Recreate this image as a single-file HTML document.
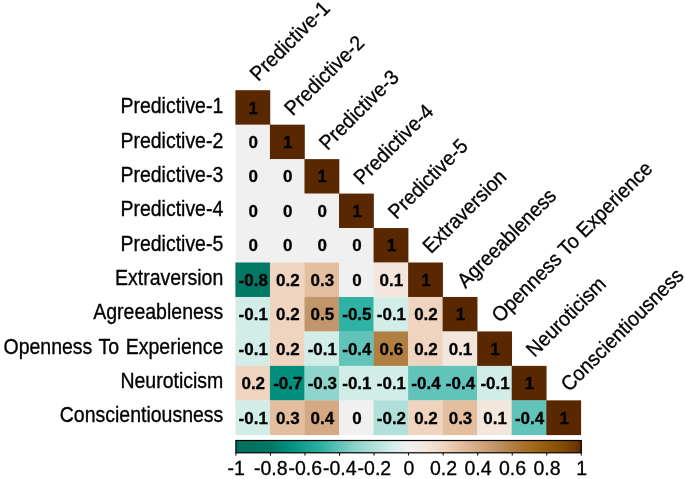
<!DOCTYPE html><html><head><meta charset="utf-8"><title>Correlation plot</title><style>html,body{margin:0;padding:0;background:#fff}svg{display:block}text{stroke:#000;stroke-width:0.3px;font-family:"Liberation Sans",Arial,sans-serif;fill:#000}</style></head><body>
<svg width="685" height="479" viewBox="0 0 685 479">
<defs><linearGradient id="cb" x1="0" y1="0" x2="1" y2="0">
<stop offset="0.00%" stop-color="#006F5C"/>
<stop offset="10.00%" stop-color="#007864"/>
<stop offset="15.00%" stop-color="#008F7C"/>
<stop offset="25.00%" stop-color="#2FB1A3"/>
<stop offset="30.00%" stop-color="#62C3BA"/>
<stop offset="35.00%" stop-color="#8FD5CC"/>
<stop offset="40.00%" stop-color="#B0E0DA"/>
<stop offset="45.00%" stop-color="#D2ECE8"/>
<stop offset="50.00%" stop-color="#F0F0F0"/>
<stop offset="55.00%" stop-color="#F3E6DC"/>
<stop offset="60.00%" stop-color="#EFD5C0"/>
<stop offset="65.00%" stop-color="#E3BFA0"/>
<stop offset="70.00%" stop-color="#D4A983"/>
<stop offset="75.00%" stop-color="#C2956A"/>
<stop offset="80.00%" stop-color="#B17F42"/>
<stop offset="85.00%" stop-color="#A46C1E"/>
<stop offset="90.00%" stop-color="#955A0B"/>
<stop offset="95.00%" stop-color="#824806"/>
<stop offset="98.50%" stop-color="#6E3803"/>
<stop offset="100.00%" stop-color="#5A2800"/>
</linearGradient></defs>
<rect width="685" height="479" fill="#fff"/>
<rect x="235.40" y="90.20" width="34.84" height="34.76" fill="#5A2800"/>
<rect x="235.40" y="124.66" width="34.84" height="34.76" fill="#F0F0F0"/>
<rect x="269.94" y="124.66" width="34.84" height="34.76" fill="#5A2800"/>
<rect x="235.40" y="159.12" width="34.84" height="34.76" fill="#F0F0F0"/>
<rect x="269.94" y="159.12" width="34.84" height="34.76" fill="#F0F0F0"/>
<rect x="304.48" y="159.12" width="34.84" height="34.76" fill="#5A2800"/>
<rect x="235.40" y="193.58" width="34.84" height="34.76" fill="#F0F0F0"/>
<rect x="269.94" y="193.58" width="34.84" height="34.76" fill="#F0F0F0"/>
<rect x="304.48" y="193.58" width="34.84" height="34.76" fill="#F0F0F0"/>
<rect x="339.02" y="193.58" width="34.84" height="34.76" fill="#5A2800"/>
<rect x="235.40" y="228.04" width="34.84" height="34.76" fill="#F0F0F0"/>
<rect x="269.94" y="228.04" width="34.84" height="34.76" fill="#F0F0F0"/>
<rect x="304.48" y="228.04" width="34.84" height="34.76" fill="#F0F0F0"/>
<rect x="339.02" y="228.04" width="34.84" height="34.76" fill="#F0F0F0"/>
<rect x="373.56" y="228.04" width="34.84" height="34.76" fill="#5A2800"/>
<rect x="235.40" y="262.50" width="34.84" height="34.76" fill="#007864"/>
<rect x="269.94" y="262.50" width="34.84" height="34.76" fill="#EFD5C0"/>
<rect x="304.48" y="262.50" width="34.84" height="34.76" fill="#E3BFA0"/>
<rect x="339.02" y="262.50" width="34.84" height="34.76" fill="#F0F0F0"/>
<rect x="373.56" y="262.50" width="34.84" height="34.76" fill="#F3E6DC"/>
<rect x="408.10" y="262.50" width="34.84" height="34.76" fill="#5A2800"/>
<rect x="235.40" y="296.96" width="34.84" height="34.76" fill="#D2ECE8"/>
<rect x="269.94" y="296.96" width="34.84" height="34.76" fill="#EFD5C0"/>
<rect x="304.48" y="296.96" width="34.84" height="34.76" fill="#C2956A"/>
<rect x="339.02" y="296.96" width="34.84" height="34.76" fill="#2FB1A3"/>
<rect x="373.56" y="296.96" width="34.84" height="34.76" fill="#D2ECE8"/>
<rect x="408.10" y="296.96" width="34.84" height="34.76" fill="#EFD5C0"/>
<rect x="442.64" y="296.96" width="34.84" height="34.76" fill="#5A2800"/>
<rect x="235.40" y="331.42" width="34.84" height="34.76" fill="#D2ECE8"/>
<rect x="269.94" y="331.42" width="34.84" height="34.76" fill="#EFD5C0"/>
<rect x="304.48" y="331.42" width="34.84" height="34.76" fill="#D2ECE8"/>
<rect x="339.02" y="331.42" width="34.84" height="34.76" fill="#62C3BA"/>
<rect x="373.56" y="331.42" width="34.84" height="34.76" fill="#B17F42"/>
<rect x="408.10" y="331.42" width="34.84" height="34.76" fill="#EFD5C0"/>
<rect x="442.64" y="331.42" width="34.84" height="34.76" fill="#F3E6DC"/>
<rect x="477.18" y="331.42" width="34.84" height="34.76" fill="#5A2800"/>
<rect x="235.40" y="365.88" width="34.84" height="34.76" fill="#EFD5C0"/>
<rect x="269.94" y="365.88" width="34.84" height="34.76" fill="#008F7C"/>
<rect x="304.48" y="365.88" width="34.84" height="34.76" fill="#8FD5CC"/>
<rect x="339.02" y="365.88" width="34.84" height="34.76" fill="#D2ECE8"/>
<rect x="373.56" y="365.88" width="34.84" height="34.76" fill="#D2ECE8"/>
<rect x="408.10" y="365.88" width="34.84" height="34.76" fill="#62C3BA"/>
<rect x="442.64" y="365.88" width="34.84" height="34.76" fill="#62C3BA"/>
<rect x="477.18" y="365.88" width="34.84" height="34.76" fill="#D2ECE8"/>
<rect x="511.72" y="365.88" width="34.84" height="34.76" fill="#5A2800"/>
<rect x="235.40" y="400.34" width="34.84" height="34.76" fill="#D2ECE8"/>
<rect x="269.94" y="400.34" width="34.84" height="34.76" fill="#E3BFA0"/>
<rect x="304.48" y="400.34" width="34.84" height="34.76" fill="#D4A983"/>
<rect x="339.02" y="400.34" width="34.84" height="34.76" fill="#F0F0F0"/>
<rect x="373.56" y="400.34" width="34.84" height="34.76" fill="#B0E0DA"/>
<rect x="408.10" y="400.34" width="34.84" height="34.76" fill="#EFD5C0"/>
<rect x="442.64" y="400.34" width="34.84" height="34.76" fill="#E3BFA0"/>
<rect x="477.18" y="400.34" width="34.84" height="34.76" fill="#F3E6DC"/>
<rect x="511.72" y="400.34" width="34.84" height="34.76" fill="#62C3BA"/>
<rect x="546.26" y="400.34" width="34.84" height="34.76" fill="#5A2800"/>
<text x="253.27" y="113.55" font-size="17" font-weight="bold" text-anchor="middle">1</text>
<text x="253.27" y="148.01" font-size="17" font-weight="bold" text-anchor="middle">0</text>
<text x="287.81" y="148.01" font-size="17" font-weight="bold" text-anchor="middle">1</text>
<text x="253.27" y="182.47" font-size="17" font-weight="bold" text-anchor="middle">0</text>
<text x="287.81" y="182.47" font-size="17" font-weight="bold" text-anchor="middle">0</text>
<text x="322.35" y="182.47" font-size="17" font-weight="bold" text-anchor="middle">1</text>
<text x="253.27" y="216.93" font-size="17" font-weight="bold" text-anchor="middle">0</text>
<text x="287.81" y="216.93" font-size="17" font-weight="bold" text-anchor="middle">0</text>
<text x="322.35" y="216.93" font-size="17" font-weight="bold" text-anchor="middle">0</text>
<text x="356.89" y="216.93" font-size="17" font-weight="bold" text-anchor="middle">1</text>
<text x="253.27" y="251.39" font-size="17" font-weight="bold" text-anchor="middle">0</text>
<text x="287.81" y="251.39" font-size="17" font-weight="bold" text-anchor="middle">0</text>
<text x="322.35" y="251.39" font-size="17" font-weight="bold" text-anchor="middle">0</text>
<text x="356.89" y="251.39" font-size="17" font-weight="bold" text-anchor="middle">0</text>
<text x="391.43" y="251.39" font-size="17" font-weight="bold" text-anchor="middle">1</text>
<text x="253.27" y="285.85" font-size="17" font-weight="bold" text-anchor="middle">-0.8</text>
<text x="287.81" y="285.85" font-size="17" font-weight="bold" text-anchor="middle">0.2</text>
<text x="322.35" y="285.85" font-size="17" font-weight="bold" text-anchor="middle">0.3</text>
<text x="356.89" y="285.85" font-size="17" font-weight="bold" text-anchor="middle">0</text>
<text x="391.43" y="285.85" font-size="17" font-weight="bold" text-anchor="middle">0.1</text>
<text x="425.97" y="285.85" font-size="17" font-weight="bold" text-anchor="middle">1</text>
<text x="253.27" y="320.31" font-size="17" font-weight="bold" text-anchor="middle">-0.1</text>
<text x="287.81" y="320.31" font-size="17" font-weight="bold" text-anchor="middle">0.2</text>
<text x="322.35" y="320.31" font-size="17" font-weight="bold" text-anchor="middle">0.5</text>
<text x="356.89" y="320.31" font-size="17" font-weight="bold" text-anchor="middle">-0.5</text>
<text x="391.43" y="320.31" font-size="17" font-weight="bold" text-anchor="middle">-0.1</text>
<text x="425.97" y="320.31" font-size="17" font-weight="bold" text-anchor="middle">0.2</text>
<text x="460.51" y="320.31" font-size="17" font-weight="bold" text-anchor="middle">1</text>
<text x="253.27" y="354.77" font-size="17" font-weight="bold" text-anchor="middle">-0.1</text>
<text x="287.81" y="354.77" font-size="17" font-weight="bold" text-anchor="middle">0.2</text>
<text x="322.35" y="354.77" font-size="17" font-weight="bold" text-anchor="middle">-0.1</text>
<text x="356.89" y="354.77" font-size="17" font-weight="bold" text-anchor="middle">-0.4</text>
<text x="391.43" y="354.77" font-size="17" font-weight="bold" text-anchor="middle">0.6</text>
<text x="425.97" y="354.77" font-size="17" font-weight="bold" text-anchor="middle">0.2</text>
<text x="460.51" y="354.77" font-size="17" font-weight="bold" text-anchor="middle">0.1</text>
<text x="495.05" y="354.77" font-size="17" font-weight="bold" text-anchor="middle">1</text>
<text x="253.27" y="389.23" font-size="17" font-weight="bold" text-anchor="middle">0.2</text>
<text x="287.81" y="389.23" font-size="17" font-weight="bold" text-anchor="middle">-0.7</text>
<text x="322.35" y="389.23" font-size="17" font-weight="bold" text-anchor="middle">-0.3</text>
<text x="356.89" y="389.23" font-size="17" font-weight="bold" text-anchor="middle">-0.1</text>
<text x="391.43" y="389.23" font-size="17" font-weight="bold" text-anchor="middle">-0.1</text>
<text x="425.97" y="389.23" font-size="17" font-weight="bold" text-anchor="middle">-0.4</text>
<text x="460.51" y="389.23" font-size="17" font-weight="bold" text-anchor="middle">-0.4</text>
<text x="495.05" y="389.23" font-size="17" font-weight="bold" text-anchor="middle">-0.1</text>
<text x="529.59" y="389.23" font-size="17" font-weight="bold" text-anchor="middle">1</text>
<text x="253.27" y="423.69" font-size="17" font-weight="bold" text-anchor="middle">-0.1</text>
<text x="287.81" y="423.69" font-size="17" font-weight="bold" text-anchor="middle">0.3</text>
<text x="322.35" y="423.69" font-size="17" font-weight="bold" text-anchor="middle">0.4</text>
<text x="356.89" y="423.69" font-size="17" font-weight="bold" text-anchor="middle">0</text>
<text x="391.43" y="423.69" font-size="17" font-weight="bold" text-anchor="middle">-0.2</text>
<text x="425.97" y="423.69" font-size="17" font-weight="bold" text-anchor="middle">0.2</text>
<text x="460.51" y="423.69" font-size="17" font-weight="bold" text-anchor="middle">0.3</text>
<text x="495.05" y="423.69" font-size="17" font-weight="bold" text-anchor="middle">0.1</text>
<text x="529.59" y="423.69" font-size="17" font-weight="bold" text-anchor="middle">-0.4</text>
<text x="564.13" y="423.69" font-size="17" font-weight="bold" text-anchor="middle">1</text>
<text transform="translate(223.3 113.33) scale(1 1.15)" font-size="19.5" text-anchor="end" word-spacing="1.2">Predictive-1</text>
<text transform="translate(223.3 147.68) scale(1 1.15)" font-size="19.5" text-anchor="end" word-spacing="1.2">Predictive-2</text>
<text transform="translate(223.3 182.03) scale(1 1.15)" font-size="19.5" text-anchor="end" word-spacing="1.2">Predictive-3</text>
<text transform="translate(223.3 216.38) scale(1 1.15)" font-size="19.5" text-anchor="end" word-spacing="1.2">Predictive-4</text>
<text transform="translate(223.3 250.73) scale(1 1.15)" font-size="19.5" text-anchor="end" word-spacing="1.2">Predictive-5</text>
<text transform="translate(223.3 285.07) scale(1 1.15)" font-size="19.5" text-anchor="end" word-spacing="1.2">Extraversion</text>
<text transform="translate(223.3 319.42) scale(1 1.15)" font-size="19.5" text-anchor="end" word-spacing="1.2">Agreeableness</text>
<text transform="translate(223.3 353.77) scale(1 1.15)" font-size="19.5" text-anchor="end" word-spacing="1.2">Openness To Experience</text>
<text transform="translate(223.3 388.12) scale(1 1.15)" font-size="19.5" text-anchor="end" word-spacing="1.2">Neuroticism</text>
<text transform="translate(223.3 422.47) scale(1 1.15)" font-size="19.5" text-anchor="end" word-spacing="1.2">Conscientiousness</text>
<text transform="translate(258.30 82.30) rotate(-45) scale(1 1.0599999999999998)" stroke-width="0.12" font-size="19.5">Predictive-1</text>
<text transform="translate(292.84 116.76) rotate(-45) scale(1 1.0599999999999998)" stroke-width="0.12" font-size="19.5">Predictive-2</text>
<text transform="translate(327.38 151.22) rotate(-45) scale(1 1.0599999999999998)" stroke-width="0.12" font-size="19.5">Predictive-3</text>
<text transform="translate(361.92 185.68) rotate(-45) scale(1 1.0599999999999998)" stroke-width="0.12" font-size="19.5">Predictive-4</text>
<text transform="translate(396.46 220.14) rotate(-45) scale(1 1.0599999999999998)" stroke-width="0.12" font-size="19.5">Predictive-5</text>
<text transform="translate(431.00 254.60) rotate(-45) scale(1 1.0599999999999998)" stroke-width="0.12" font-size="19.5">Extraversion</text>
<text transform="translate(465.54 289.06) rotate(-45) scale(1 1.0599999999999998)" stroke-width="0.12" font-size="19.5">Agreeableness</text>
<text transform="translate(500.08 323.52) rotate(-45) scale(1 1.0599999999999998)" stroke-width="0.12" font-size="19.5">Openness To Experience</text>
<text transform="translate(534.62 357.98) rotate(-45) scale(1 1.0599999999999998)" stroke-width="0.12" font-size="19.5">Neuroticism</text>
<text transform="translate(569.16 392.44) rotate(-45) scale(1 1.0599999999999998)" stroke-width="0.12" font-size="19.5">Conscientiousness</text>
<rect x="235.90" y="440.50" width="345.40" height="12.30" fill="url(#cb)" stroke="#000" stroke-width="1.2"/>
<line x1="235.90" y1="452.80" x2="235.90" y2="455.60" stroke="#000" stroke-width="1"/>
<text transform="translate(236.20 474.8) scale(1.0 1)" font-size="19.5" text-anchor="middle">-1</text>
<line x1="270.44" y1="452.80" x2="270.44" y2="455.60" stroke="#000" stroke-width="1"/>
<text transform="translate(270.74 474.8) scale(1.0 1)" font-size="19.5" text-anchor="middle">-0.8</text>
<line x1="304.98" y1="452.80" x2="304.98" y2="455.60" stroke="#000" stroke-width="1"/>
<text transform="translate(305.28 474.8) scale(1.0 1)" font-size="19.5" text-anchor="middle">-0.6</text>
<line x1="339.52" y1="452.80" x2="339.52" y2="455.60" stroke="#000" stroke-width="1"/>
<text transform="translate(339.82 474.8) scale(1.0 1)" font-size="19.5" text-anchor="middle">-0.4</text>
<line x1="374.06" y1="452.80" x2="374.06" y2="455.60" stroke="#000" stroke-width="1"/>
<text transform="translate(374.36 474.8) scale(1.0 1)" font-size="19.5" text-anchor="middle">-0.2</text>
<line x1="408.60" y1="452.80" x2="408.60" y2="455.60" stroke="#000" stroke-width="1"/>
<text transform="translate(408.90 474.8) scale(1.0 1)" font-size="19.5" text-anchor="middle">0</text>
<line x1="443.14" y1="452.80" x2="443.14" y2="455.60" stroke="#000" stroke-width="1"/>
<text transform="translate(443.44 474.8) scale(1.0 1)" font-size="19.5" text-anchor="middle">0.2</text>
<line x1="477.68" y1="452.80" x2="477.68" y2="455.60" stroke="#000" stroke-width="1"/>
<text transform="translate(477.98 474.8) scale(1.0 1)" font-size="19.5" text-anchor="middle">0.4</text>
<line x1="512.22" y1="452.80" x2="512.22" y2="455.60" stroke="#000" stroke-width="1"/>
<text transform="translate(512.52 474.8) scale(1.0 1)" font-size="19.5" text-anchor="middle">0.6</text>
<line x1="546.76" y1="452.80" x2="546.76" y2="455.60" stroke="#000" stroke-width="1"/>
<text transform="translate(547.06 474.8) scale(1.0 1)" font-size="19.5" text-anchor="middle">0.8</text>
<line x1="581.30" y1="452.80" x2="581.30" y2="455.60" stroke="#000" stroke-width="1"/>
<text transform="translate(581.60 474.8) scale(1.0 1)" font-size="19.5" text-anchor="middle">1</text>
</svg></body></html>
